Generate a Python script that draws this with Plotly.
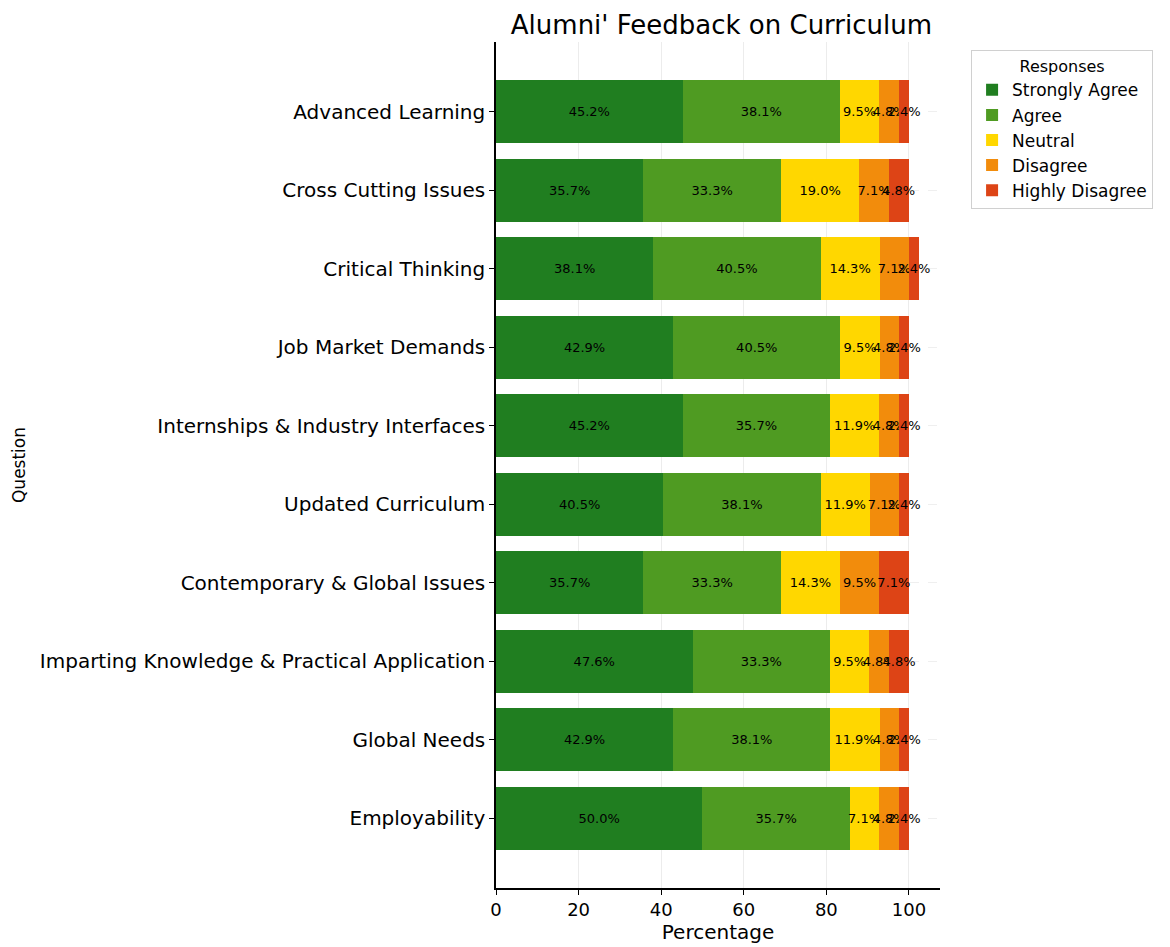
import plotly.graph_objects as go

questions = [
    "Advanced Learning",
    "Cross Cutting Issues",
    "Critical Thinking",
    "Job Market Demands",
    "Internships & Industry Interfaces",
    "Updated Curriculum",
    "Contemporary & Global Issues",
    "Imparting Knowledge & Practical Application",
    "Global Needs",
    "Employability",
]
strongly_agree = [45.2, 35.7, 38.1, 42.9, 45.2, 40.5, 35.7, 47.6, 42.9, 50.0]
agree = [38.1, 33.3, 40.5, 40.5, 35.7, 38.1, 33.3, 33.3, 38.1, 35.7]
neutral = [9.5, 19.0, 14.3, 9.5, 11.9, 11.9, 14.3, 9.5, 11.9, 7.1]
disagree = [4.8, 7.1, 7.1, 4.8, 4.8, 7.1, 9.5, 4.8, 4.8, 4.8]
highly_disagree = [2.4, 4.8, 2.4, 2.4, 2.4, 2.4, 7.1, 4.8, 2.4, 2.4]

series = [
    ("Strongly Agree", strongly_agree, "#207e20"),
    ("Agree", agree, "#4f9b22"),
    ("Neutral", neutral, "#ffd700"),
    ("Disagree", disagree, "#f28c0c"),
    ("Highly Disagree", highly_disagree, "#dd4416"),
]

FONT = "DejaVu Sans"
fig = go.Figure()
for name, vals, col in series:
    fig.add_trace(go.Bar(
        y=questions, x=vals, name=name, orientation="h",
        marker=dict(color=col, line=dict(width=0)),
        text=[f"{v:.1f}%" for v in vals],
        textposition="inside", insidetextanchor="middle",
        textangle=0, constraintext="none",
        textfont=dict(color="black", size=13, family=FONT),
        cliponaxis=False,
    ))

n = len(questions)
W, H = 1162, 939
fig.update_layout(
    barmode="stack", bargap=0.2,
    width=W, height=H,
    paper_bgcolor="white", plot_bgcolor="white",
    margin=dict(l=488, r=230, t=34, b=59, autoexpand=False),
    font=dict(family=FONT, color="black"),
    title=dict(text="Alumni' Feedback on Curriculum", x=0.614, xanchor="center",
               y=1 - 17 / H, yanchor="middle", font=dict(size=26, family=FONT)),
    legend=dict(
        title=dict(text="Responses", side="top center", font=dict(size=16)),
        x=1.07, y=0.99, xanchor="left", yanchor="top",
        bordercolor="#d0d0d0", borderwidth=1, font=dict(size=17),
        traceorder="normal",
    ),
    xaxis=dict(
        range=[0, 107.52], tickvals=[0, 20, 40, 60, 80, 100],
        showline=True, linecolor="black", linewidth=1.5,
        ticks="outside", ticklen=5, tickcolor="black",
        showgrid=True, gridcolor="#ececec", zeroline=False,
        tickfont=dict(size=18),
        title=dict(text="Percentage", font=dict(size=20), standoff=2),
    ),
    yaxis=dict(
        categoryorder="array", categoryarray=questions,
        range=[n - 1 + 0.89, -0.89],
        showline=True, linecolor="black", linewidth=1.5,
        ticks="outside", ticklen=5, tickcolor="black",
        showgrid=True, gridcolor="#efefef", griddash="dash",
        tickfont=dict(size=20),
        title=dict(text="Question", font=dict(size=17), standoff=10),
    ),
)
fig.write_html("out.html")
